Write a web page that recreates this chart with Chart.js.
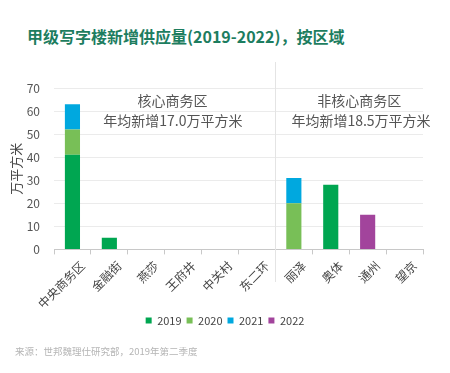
<!DOCTYPE html>
<html><head><meta charset="utf-8">
<script src="https://cdn.jsdelivr.net/npm/chart.js@4"></script>
<style>
html,body{margin:0;padding:0;background:#fff;}
#wrap{position:relative;width:450px;height:373px;overflow:hidden;}
#title{position:absolute;left:27px;top:24px;font:bold 16px "Noto Sans CJK SC","Noto Sans",sans-serif;color:#1d7d5f;white-space:nowrap;letter-spacing:0px;}
#src{position:absolute;left:15px;top:344px;font:9.5px "Noto Sans CJK SC","Noto Sans",sans-serif;color:#b5b5b5;white-space:nowrap;}
canvas{position:absolute;left:0;top:0;}
</style></head>
<body><div id="wrap">
<div id="title">甲级写字楼新增供应量(2019-2022)，按区域</div>
<canvas id="c" width="450" height="373"></canvas>
<div id="src">来源：世邦魏理仕研究部，2019年第二季度</div>
</div>
<script>
const categories = ["中央商务区","金融街","燕莎","王府井","中关村","东二环","丽泽","奥体","通州","望京"];
const seriesNames = ["2019","2020","2021","2022"];
const v2019 = [41,5,0,0,0,0,0,28,0,0];
const v2020 = [11,0,0,0,0,0,20,0,0,0];
const v2021 = [11,0,0,0,0,0,11,0,0,0];
const v2022 = [0,0,0,0,0,0,0,0,15,0];
const colors = ["#00a651","#78bf57","#00a8df","#a2449c"];
const yTicks = [0,10,20,30,40,50,60,70];
const groupLabels = [
  {text:"核心商务区", x:2.71, y:64.6},
  {text:"年均新增17.0万平方米", x:2.72, y:55.9},
  {text:"非核心商务区", x:7.77, y:64.6},
  {text:"年均新增18.5万平方米", x:7.82, y:55.9}
];
const FONT = '"Noto Sans CJK SC","Noto Sans",sans-serif';

const overlay = {
  id:'overlay',
  beforeDatasetsDraw(chart){
    const {ctx, scales:{x,y}} = chart;
    const xd = (x.getPixelForValue(5)+x.getPixelForValue(6))/2;
    ctx.save();
    ctx.strokeStyle = '#e4e4e4';
    ctx.lineWidth = 1;
    ctx.beginPath();
    ctx.moveTo(Math.round(xd)+0.5, 62);
    ctx.lineTo(Math.round(xd)+0.5, 282);
    ctx.stroke();
    ctx.restore();
  },
  afterDatasetsDraw(chart){
    const {ctx, scales:{x,y}} = chart;
    ctx.save();
    ctx.fillStyle = '#555';
    ctx.font = '14px ' + FONT;
    ctx.textAlign = 'center';
    ctx.textBaseline = 'middle';
    groupLabels.forEach(g=>{
      ctx.fillText(g.text, x.getPixelForValue(g.x), y.getPixelForValue(g.y));
    });
    ctx.restore();
  }
};

const sets = [v2019,v2020,v2021,v2022];
new Chart(document.getElementById('c'), {
  type:'bar',
  data:{
    labels:categories,
    datasets: sets.map((d,i)=>({label:seriesNames[i], data:d, backgroundColor:colors[i], borderWidth:0, barPercentage:0.41, categoryPercentage:1}))
  },
  options:{
    responsive:false,
    animation:false,
    layout:{padding:{top:88,left:8,right:8,bottom:37}},
    plugins:{
      legend:{position:'bottom', labels:{boxWidth:6, boxHeight:6, padding:5, color:'#444', font:{family:FONT,size:11}}},
      tooltip:{enabled:false}
    },
    scales:{
      x:{stacked:true,
        afterFit(ax){ ax.height -= 5; },
        grid:{offset:true, drawOnChartArea:false, drawTicks:true, tickLength:5, color:'#c8c8c8'},
        border:{display:true, color:'#c8c8c8'},
        ticks:{minRotation:45, maxRotation:45, labelOffset:10, padding:4, color:'#444', font:{family:FONT,size:12}, autoSkip:false}
      },
      y:{stacked:true, min:0, max:70,
        afterBuildTicks(ax){ ax.ticks = yTicks.map(v=>({value:v})); },
        afterFit(ax){ ax.width = 46; },
        grid:{color:'#ebebeb', drawTicks:false},
        border:{display:false},
        ticks:{padding:14, color:'#555', font:{family:FONT,size:12}},
        title:{display:true, text:'万平方米', color:'#444', font:{family:FONT,size:13}, padding:{top:0,bottom:2}}
      },
      yRight:{position:'right', display:true,
        afterFit(ax){ ax.width = 19; },
        grid:{display:false}, border:{display:false}, ticks:{display:false}
      }
    }
  },
  plugins:[overlay]
});
</script>
</body></html>
